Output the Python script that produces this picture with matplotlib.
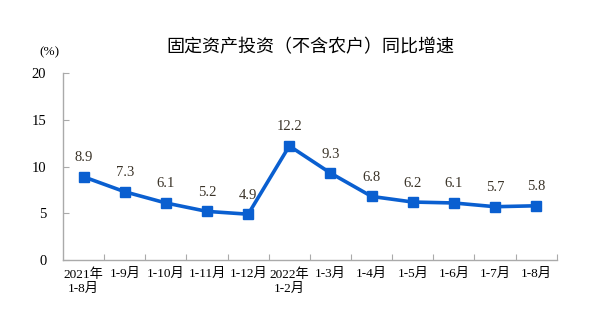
import matplotlib.pyplot as plt
import numpy as np

plt.rcParams['font.family'] = ['Liberation Serif', 'Noto Sans CJK SC', 'DejaVu Sans']

periods = ['2021年\n1-8月', '1-9月', '1-10月', '1-11月', '1-12月', '2022年\n1-2月',
           '1-3月', '1-4月', '1-5月', '1-6月', '1-7月', '1-8月']
growth = [8.9, 7.3, 6.1, 5.2, 4.9, 12.2, 9.3, 6.8, 6.2, 6.1, 5.7, 5.8]

fig = plt.figure(figsize=(6, 3.23), dpi=100)
ax = fig.add_axes([0.105, 0.195, 0.823, 0.579])

x = np.arange(len(growth))
ax.plot(x, growth, color='#0a5fd0', lw=2.6, marker='s', ms=7.5, zorder=3)
for xi, v in zip(x, growth):
    ax.annotate(f'{v:.1f}', (xi, v), xytext=(0, 9), textcoords='offset points',
                ha='center', va='bottom', fontsize=10.5, color='#3a3328')

ax.set_xlim(-0.5, len(growth) - 0.5)
ax.set_ylim(0, 20)
ax.set_yticks([0, 5, 10, 15, 20])
ax.set_xticks(x + 0.5, minor=False)
ax.set_xticklabels([])
ax.set_xticks(x, minor=True)
ax.set_xticklabels(periods, minor=True, fontsize=9.5, linespacing=1.25)
ax.tick_params(axis='x', which='minor', length=0, pad=6)
ax.tick_params(axis='x', which='major', direction='in', length=4, color='#aaaaaa')
ax.tick_params(axis='y', direction='in', length=4, color='#aaaaaa', labelsize=10.5, pad=12)

for side in ['top', 'right']:
    ax.spines[side].set_visible(False)
for side in ['left', 'bottom']:
    ax.spines[side].set_color('#aaaaaa')
    ax.spines[side].set_linewidth(1)

fig.text(0.083, 0.838, '(%)', fontsize=9.5, ha='center', va='center')
fig.text(0.517, 0.855, '固定资产投资（不含农户）同比增速', fontsize=13,
         family=['Noto Sans CJK SC', 'DejaVu Sans'], ha='center', va='center')

fig.savefig('out.png', dpi=100)
